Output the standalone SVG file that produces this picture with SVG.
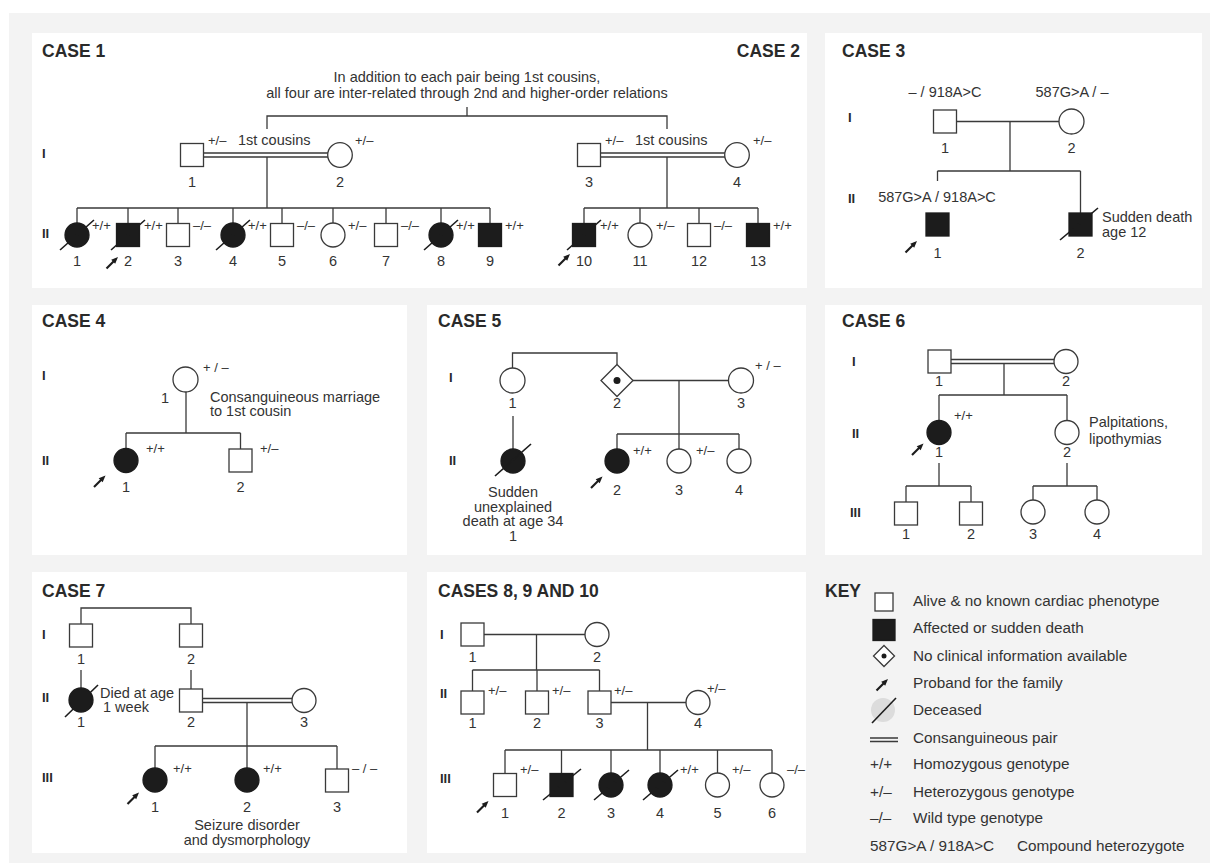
<svg xmlns="http://www.w3.org/2000/svg" xmlns:xlink="http://www.w3.org/1999/xlink" width="1219" height="868" viewBox="0 0 1219 868">
<style>
.ln{stroke:#3a3a3a;stroke-width:1.3;fill:none}
.o{fill:#fff;stroke:#3a3a3a;stroke-width:1.3}
.f{fill:#1c1c1c;stroke:#1c1c1c;stroke-width:1.3}
.sl{stroke:#1c1c1c;stroke-width:1.6}
text{font-family:"Liberation Sans",Arial,sans-serif;fill:#333;font-size:14.5px}
.n{text-anchor:middle}
.g{font-size:13px}
.h{font-weight:bold;font-size:17.5px;fill:#2a2a2a}
.r{font-weight:bold;font-size:13px;fill:#2a2a2a}
.k{font-size:15.3px}
.c{text-anchor:middle}
</style>
<defs>
<g id="pb"><path d="M-5.5 5.5 L2 -2" stroke="#1c1c1c" stroke-width="2.2"/><path d="M6 -6 L-0.8 -3.2 L3.2 0.8 Z" fill="#1c1c1c"/></g>
</defs>
<rect x="0" y="0" width="1219" height="868" fill="#fff"/>
<rect x="9" y="13" width="1201" height="850" fill="#f3f3f3"/>
<g id="panels" fill="#fff">
<rect x="32" y="33" width="775" height="255"/>
<rect x="825" y="33" width="377" height="255"/>
<rect x="32" y="305" width="375" height="250"/>
<rect x="427" y="305" width="379" height="250"/>
<rect x="825" y="305" width="377" height="250"/>
<rect x="32" y="572" width="375" height="281"/>
<rect x="427" y="572" width="379" height="281"/>
</g>

<g id="connectors" class="ln">
<!-- case 1/2 -->
<path d="M267 129V116H667V129M467 116V107"/>
<path d="M203.5 153H328M203.5 157H328M600.5 153H725M600.5 157H725"/>
<path d="M267 157V208M667 157V208M77 208H490M584 208H758"/>
<path d="M77 208V223M128 208V223.5M178 208V223.5M233 208V223M282 208V223.5M333 208V223M386 208V223.5M441 208V223M490 208V223.5M584 208V223.5M640 208V223M699 208V223.5M758 208V223.5"/>
<!-- case 3 -->
<path d="M957 121.5H1059M1010 121.5V171M937.5 171H1080.5M937.5 171V181M1080.5 171V213"/>
<!-- case 4 -->
<path d="M186 392V433M126 433H240.5M126 433V448.5M240.5 433V449"/>
<!-- case 5 -->
<path d="M512.5 368V353H617V364.5M633 380.5H728.5M679 380.5V434M617 434H739M617 434V449M679 434V449M739 434V449M513 416V449"/>
<!-- case 6 -->
<path d="M951 359.5H1054M951 363.5H1054M1004 363.5V395M939 395H1067M939 395V420.5M1067 395V420.5"/>
<path d="M939 463V486M906 486H971M906 486V502M971 486V502M1067 463V486M1033 486H1097M1033 486V500M1097 486V500"/>
<!-- case 7 -->
<path d="M81 624V608H191V624M81 670V688M191 670V689"/>
<path d="M202.5 698.5H292M202.5 702.5H292M247 702.5V746M155 746H337M155 746V768M247 746V768M337 746V769"/>
<!-- cases 8-10 -->
<path d="M484 634.5H585M536.5 634.5V670M472.5 670H599.5M472.5 670V691M537 670V691M599.5 670V691"/>
<path d="M611 702.5H686M647.5 702.5V750M505 750H772M505 750V773.5M561.5 750V773.5M611 750V773M660 750V773M717.5 750V773M772 750V773"/>
</g>

<!-- titles and generation numerals -->
<g id="titles">
<text class="h" x="42" y="57">CASE 1</text>
<text class="h" x="800" y="57" text-anchor="end">CASE 2</text>
<text class="h" x="842" y="57">CASE 3</text>
<text class="h" x="42" y="327">CASE 4</text>
<text class="h" x="438" y="327">CASE 5</text>
<text class="h" x="842" y="327">CASE 6</text>
<text class="h" x="42" y="597">CASE 7</text>
<text class="h" x="438" y="597">CASES 8, 9 AND 10</text>
<text class="h" x="825" y="597">KEY</text>
</g>
<g id="generations">
<text class="r" x="42" y="158">I</text><text class="r" x="42" y="238">II</text>
<text class="r" x="848" y="122">I</text><text class="r" x="848" y="203">II</text>
<text class="r" x="42" y="380">I</text><text class="r" x="42" y="465">II</text>
<text class="r" x="449" y="382">I</text><text class="r" x="449" y="465">II</text>
<text class="r" x="852" y="366">I</text><text class="r" x="852" y="438">II</text><text class="r" x="850" y="517">III</text>
<text class="r" x="42" y="639">I</text><text class="r" x="42" y="702">II</text><text class="r" x="42" y="782">III</text>
<text class="r" x="440" y="639">I</text><text class="r" x="440" y="698">II</text><text class="r" x="440" y="783">III</text>
</g>

<!-- CASE 1 & 2 -->
<g id="case12-notes">
<text class="c" x="467" y="82">In addition to each pair being 1st cousins,</text>
<text class="c" x="467" y="98">all four are inter-related through 2nd and higher-order relations</text>
<text x="238" y="145">1st cousins</text>
<text x="635" y="145">1st cousins</text>
</g>
<g id="c1-I-1"><rect class="o" x="180.5" y="143.5" width="23" height="23"/><text class="g" x="208" y="145">+/–</text><text class="n" x="192" y="187">1</text></g>
<g id="c1-I-2"><circle class="o" cx="340" cy="155" r="12.3"/><text class="g" x="355" y="145">+/–</text><text class="n" x="340" y="187">2</text></g>
<g id="c1-II-1"><circle class="f" cx="77" cy="235" r="12"/><path class="sl" d="M60 250L94 220"/><text class="g" x="92" y="230">+/+</text><text class="n" x="77" y="266">1</text></g>
<g id="c1-II-2"><rect class="f" x="116.5" y="223.5" width="23" height="23"/><path class="sl" d="M111 250L145 220"/><use xlink:href="#pb" x="112" y="263"/><text class="g" x="144" y="230">+/+</text><text class="n" x="128" y="266">2</text></g>
<g id="c1-II-3"><rect class="o" x="166.5" y="223.5" width="23" height="23"/><text class="g" x="193" y="230">–/–</text><text class="n" x="178" y="266">3</text></g>
<g id="c1-II-4"><circle class="f" cx="233" cy="235" r="12"/><path class="sl" d="M216 250L250 220"/><text class="g" x="248" y="230">+/+</text><text class="n" x="233" y="266">4</text></g>
<g id="c1-II-5"><rect class="o" x="270.5" y="223.5" width="23" height="23"/><text class="g" x="297" y="230">–/–</text><text class="n" x="282" y="266">5</text></g>
<g id="c1-II-6"><circle class="o" cx="333" cy="235" r="12"/><text class="g" x="348" y="230">+/–</text><text class="n" x="333" y="266">6</text></g>
<g id="c1-II-7"><rect class="o" x="374.5" y="223.5" width="23" height="23"/><text class="g" x="401" y="230">–/–</text><text class="n" x="386" y="266">7</text></g>
<g id="c1-II-8"><circle class="f" cx="441" cy="235" r="12"/><path class="sl" d="M424 250L458 220"/><text class="g" x="456" y="230">+/+</text><text class="n" x="441" y="266">8</text></g>
<g id="c1-II-9"><rect class="f" x="478.5" y="223.5" width="23" height="23"/><text class="g" x="505" y="230">+/+</text><text class="n" x="490" y="266">9</text></g>
<g id="c2-I-3"><rect class="o" x="577.5" y="143.5" width="23" height="23"/><text class="g" x="605" y="145">+/–</text><text class="n" x="589" y="187">3</text></g>
<g id="c2-I-4"><circle class="o" cx="737" cy="155" r="12.3"/><text class="g" x="753" y="145">+/–</text><text class="n" x="737" y="187">4</text></g>
<g id="c2-II-10"><rect class="f" x="572.5" y="223.5" width="23" height="23"/><path class="sl" d="M567 250L601 220"/><use xlink:href="#pb" x="564" y="260"/><text class="g" x="600" y="230">+/+</text><text class="n" x="584" y="266">10</text></g>
<g id="c2-II-11"><circle class="o" cx="640" cy="235" r="12"/><text class="g" x="656" y="230">+/–</text><text class="n" x="640" y="266">11</text></g>
<g id="c2-II-12"><rect class="o" x="687.5" y="223.5" width="23" height="23"/><text class="g" x="714" y="230">–/–</text><text class="n" x="699" y="266">12</text></g>
<g id="c2-II-13"><rect class="f" x="746.5" y="223.5" width="23" height="23"/><text class="g" x="773" y="230">+/+</text><text class="n" x="758" y="266">13</text></g>

<!-- CASE 3 -->
<g id="c3-I-1"><rect class="o" x="933.5" y="110" width="23" height="23"/><text class="c" x="945" y="97">– / 918A&gt;C</text><text class="n" x="945" y="153">1</text></g>
<g id="c3-I-2"><circle class="o" cx="1071.5" cy="121.5" r="12.5"/><text class="c" x="1072" y="97">587G&gt;A / –</text><text class="n" x="1071.5" y="153">2</text></g>
<g id="c3-II-1"><rect class="f" x="926" y="213" width="23" height="23"/><text class="c" x="937" y="202">587G&gt;A / 918A&gt;C</text><use xlink:href="#pb" x="911" y="247"/><text class="n" x="937.5" y="258">1</text></g>
<g id="c3-II-2"><rect class="f" x="1069" y="213" width="23" height="23"/><path class="sl" d="M1060 240L1098 208"/><text x="1102" y="222">Sudden death</text><text x="1102" y="237">age 12</text><text class="n" x="1080.5" y="258">2</text></g>

<!-- CASE 4 -->
<g id="c4-I-1"><circle class="o" cx="185.5" cy="379.5" r="12.5"/><text class="g" x="203" y="372">+ / –</text><text class="n" x="165" y="403">1</text><text x="210" y="402">Consanguineous marriage</text><text x="210" y="416">to 1st cousin</text></g>
<g id="c4-II-1"><circle class="f" cx="126" cy="460.5" r="12"/><text class="g" x="146" y="453">+/+</text><use xlink:href="#pb" x="99.5" y="481.5"/><text class="n" x="126" y="492">1</text></g>
<g id="c4-II-2"><rect class="o" x="229" y="449" width="23" height="23"/><text class="g" x="260" y="453">+/–</text><text class="n" x="240.5" y="492">2</text></g>

<!-- CASE 5 -->
<g id="c5-I-1"><circle class="o" cx="512.5" cy="380.5" r="12.5"/><text class="n" x="512.5" y="408">1</text></g>
<g id="c5-I-2"><path class="o" d="M617 364.5L633 380.5L617 396.5L601 380.5Z"/><circle cx="617" cy="380.5" r="3.5" fill="#1c1c1c"/><text class="n" x="617" y="408">2</text></g>
<g id="c5-I-3"><circle class="o" cx="741" cy="380.5" r="12.5"/><text class="g" x="755" y="370">+ / –</text><text class="n" x="741" y="408">3</text></g>
<g id="c5-II-1"><circle class="f" cx="513" cy="461" r="12"/><path class="sl" d="M495 476L531 444"/><text class="c" x="513" y="497">Sudden</text><text class="c" x="513" y="512">unexplained</text><text class="c" x="513" y="526">death at age 34</text><text class="c" x="513" y="541">1</text></g>
<g id="c5-II-2"><circle class="f" cx="617" cy="461" r="12"/><text class="g" x="633" y="455">+/+</text><use xlink:href="#pb" x="596.5" y="482.5"/><text class="n" x="617" y="495">2</text></g>
<g id="c5-II-3"><circle class="o" cx="679" cy="461" r="12"/><text class="g" x="696" y="455">+/–</text><text class="n" x="679" y="495">3</text></g>
<g id="c5-II-4"><circle class="o" cx="739" cy="461" r="12"/><text class="n" x="739" y="495">4</text></g>

<!-- CASE 6 -->
<g id="c6-I-1"><rect class="o" x="928" y="350" width="23" height="23"/><text class="n" x="939" y="386">1</text></g>
<g id="c6-I-2"><circle class="o" cx="1066" cy="361.5" r="12"/><text class="n" x="1066" y="386">2</text></g>
<g id="c6-II-1"><circle class="f" cx="939" cy="432.5" r="12"/><text class="g" x="954" y="420">+/+</text><use xlink:href="#pb" x="917.5" y="449.5"/><text class="n" x="939" y="457">1</text></g>
<g id="c6-II-2"><circle class="o" cx="1067" cy="432.5" r="12"/><text x="1089" y="427">Palpitations,</text><text x="1089" y="444">lipothymias</text><text class="n" x="1067" y="457">2</text></g>
<g id="c6-III-1"><rect class="o" x="894.5" y="502" width="23" height="23"/><text class="n" x="906" y="539">1</text></g>
<g id="c6-III-2"><rect class="o" x="959.5" y="502" width="23" height="23"/><text class="n" x="971" y="539">2</text></g>
<g id="c6-III-3"><circle class="o" cx="1033" cy="512" r="12"/><text class="n" x="1033" y="539">3</text></g>
<g id="c6-III-4"><circle class="o" cx="1097" cy="512" r="12"/><text class="n" x="1097" y="539">4</text></g>

<!-- CASE 7 -->
<g id="c7-I-1"><rect class="o" x="69.5" y="624" width="23" height="23"/><text class="n" x="81" y="664">1</text></g>
<g id="c7-I-2"><rect class="o" x="179.5" y="624" width="23" height="23"/><text class="n" x="191" y="664">2</text></g>
<g id="c7-II-1"><circle class="f" cx="81" cy="700" r="12"/><path class="sl" d="M65 717L98 685"/><text x="100" y="698">Died at age</text><text x="103" y="712">1 week</text><text class="n" x="81" y="727">1</text></g>
<g id="c7-II-2"><rect class="o" x="179.5" y="689" width="23" height="23"/><text class="n" x="191" y="727">2</text></g>
<g id="c7-II-3"><circle class="o" cx="304" cy="700.5" r="12"/><text class="n" x="304" y="727">3</text></g>
<g id="c7-III-1"><circle class="f" cx="155" cy="780" r="12"/><text class="g" x="173" y="773">+/+</text><use xlink:href="#pb" x="133" y="798.5"/><text class="n" x="155" y="812">1</text></g>
<g id="c7-III-2"><circle class="f" cx="247" cy="780" r="12"/><text class="g" x="263" y="773">+/+</text><text class="n" x="247" y="812">2</text><text class="c" x="247" y="830">Seizure disorder</text><text class="c" x="247" y="845">and dysmorphology</text></g>
<g id="c7-III-3"><rect class="o" x="325.5" y="769" width="23" height="23"/><text class="g" x="352" y="773">– / –</text><text class="n" x="337" y="812">3</text></g>

<!-- CASES 8, 9, 10 -->
<g id="c8-I-1"><rect class="o" x="461" y="623" width="23" height="23"/><text class="n" x="472.5" y="662">1</text></g>
<g id="c8-I-2"><circle class="o" cx="597" cy="634.5" r="12"/><text class="n" x="597" y="662">2</text></g>
<g id="c8-II-1"><rect class="o" x="461" y="691" width="23" height="23"/><text class="g" x="488" y="695">+/–</text><text class="n" x="472.5" y="728">1</text></g>
<g id="c8-II-2"><rect class="o" x="525.5" y="691" width="23" height="23"/><text class="g" x="552" y="695">+/–</text><text class="n" x="537" y="728">2</text></g>
<g id="c8-II-3"><rect class="o" x="588" y="691" width="23" height="23"/><text class="g" x="614" y="695">+/–</text><text class="n" x="599.5" y="728">3</text></g>
<g id="c8-II-4"><circle class="o" cx="698" cy="702.5" r="12"/><text class="g" x="707" y="693">+/–</text><text class="n" x="698" y="728">4</text></g>
<g id="c8-III-1"><rect class="o" x="493.5" y="773.5" width="23" height="23"/><text class="g" x="520" y="774">+/–</text><use xlink:href="#pb" x="482.5" y="807"/><text class="n" x="505" y="818">1</text></g>
<g id="c8-III-2"><rect class="f" x="550" y="773.5" width="23" height="23"/><path class="sl" d="M543 800L581 769"/><text class="n" x="561.5" y="818">2</text></g>
<g id="c8-III-3"><circle class="f" cx="611" cy="785" r="12"/><path class="sl" d="M594 800L629 770"/><text class="n" x="611" y="818">3</text></g>
<g id="c8-III-4"><circle class="f" cx="660" cy="785" r="12"/><path class="sl" d="M643 800L678 770"/><text class="g" x="680" y="774">+/+</text><text class="n" x="660" y="818">4</text></g>
<g id="c8-III-5"><circle class="o" cx="717.5" cy="785" r="12"/><text class="g" x="732" y="774">+/–</text><text class="n" x="717.5" y="818">5</text></g>
<g id="c8-III-6"><circle class="o" cx="772" cy="785" r="12"/><text class="g" x="787" y="774">–/–</text><text class="n" x="772" y="818">6</text></g>

<!-- KEY -->
<g id="key">
<rect class="o" x="875" y="593" width="18" height="18"/>
<text class="k" x="913" y="606">Alive &amp; no known cardiac phenotype</text>
<rect class="f" x="873" y="619.5" width="22" height="21"/>
<text class="k" x="913" y="633">Affected or sudden death</text>
<path class="o" d="M884 645.5L894.5 656L884 666.5L873.5 656Z"/><circle cx="884" cy="656" r="2.5" fill="#1c1c1c"/>
<text class="k" x="913" y="661">No clinical information available</text>
<use xlink:href="#pb" x="882" y="685"/>
<text class="k" x="913" y="688">Proband for the family</text>
<circle cx="883" cy="710" r="12" fill="#dcdcdc"/><path class="sl" d="M872 723L896 698"/>
<text class="k" x="913" y="715">Deceased</text>
<path class="ln" d="M870 738H898M870 741.5H898"/>
<text class="k" x="913" y="743">Consanguineous pair</text>
<text class="k" x="870" y="769">+/+</text><text class="k" x="913" y="769">Homozygous genotype</text>
<text class="k" x="870" y="797">+/–</text><text class="k" x="913" y="797">Heterozygous genotype</text>
<text class="k" x="870" y="823">–/–</text><text class="k" x="913" y="823">Wild type genotype</text>
<text class="k" x="870" y="851">587G&gt;A / 918A&gt;C</text><text class="k" x="1017" y="851">Compound heterozygote</text>
</g>
</svg>
